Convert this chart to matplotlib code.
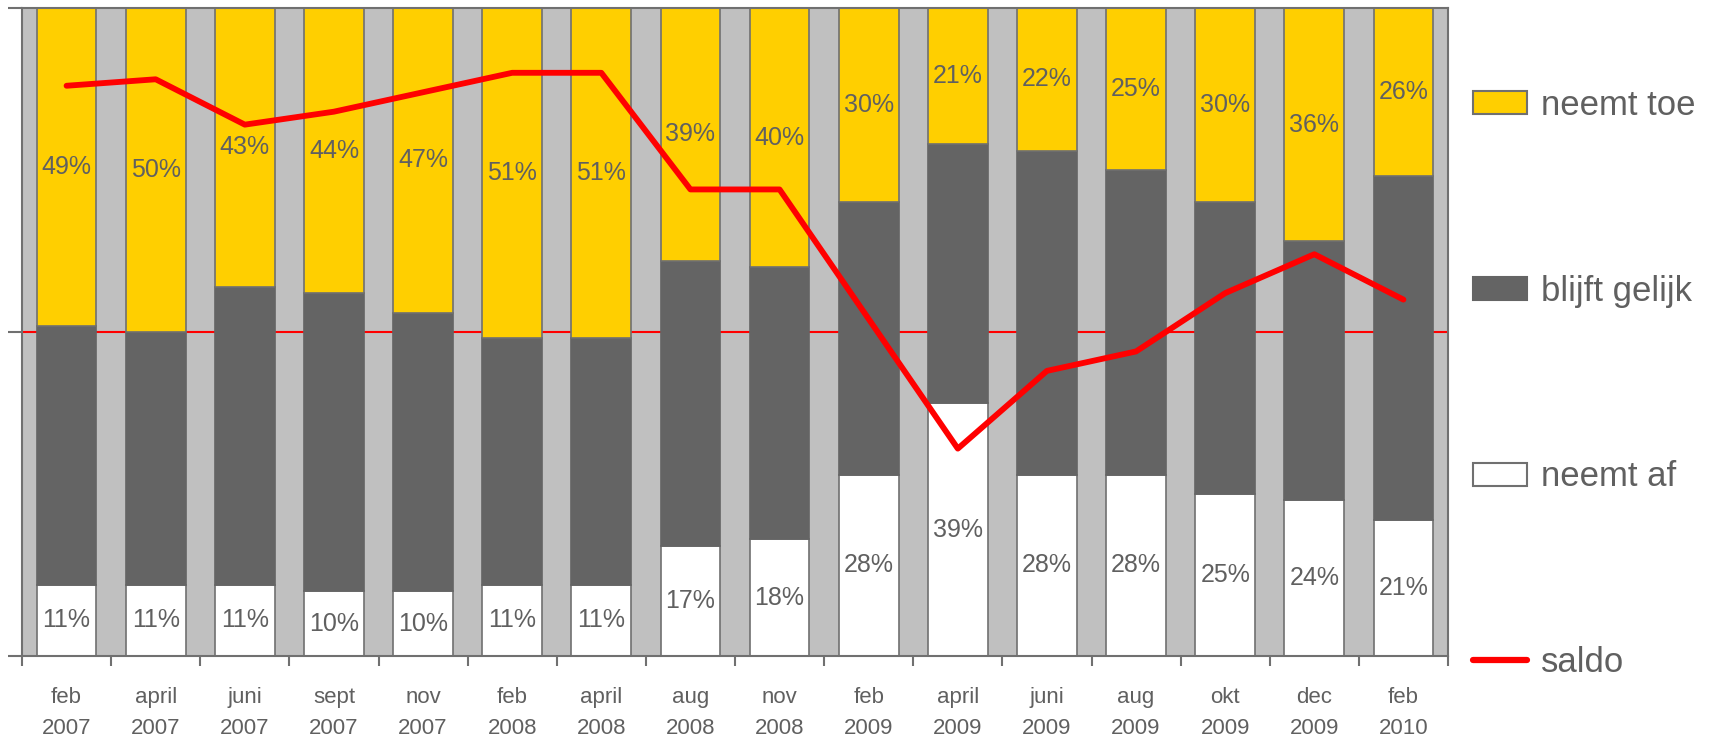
import numpy as np
import matplotlib
matplotlib.use('Agg')
import matplotlib.pyplot as plt
from matplotlib.patches import Patch
from matplotlib.lines import Line2D

plt.rcParams['font.family'] = ['Liberation Sans', 'DejaVu Sans']

# Data
labels = ['feb\n2007', 'april\n2007', 'juni\n2007', 'sept\n2007', 'nov\n2007',
          'feb\n2008', 'april\n2008', 'aug\n2008', 'nov\n2008', 'feb\n2009',
          'april\n2009', 'juni\n2009', 'aug\n2009', 'okt\n2009', 'dec\n2009', 'feb\n2010']
neemt_af = [11, 11, 11, 10, 10, 11, 11, 17, 18, 28, 39, 28, 28, 25, 24, 21]
neemt_toe = [49, 50, 43, 44, 47, 51, 51, 39, 40, 30, 21, 22, 25, 30, 36, 26]
blijft_gelijk = [100 - a - t for a, t in zip(neemt_af, neemt_toe)]
saldo = [38, 39, 32, 34, 37, 40, 40, 22, 22, 2, -18, -6, -3, 6, 12, 5]

yellow = '#FFCF00'
dark = '#646464'
edge = '#707070'
txt = '#606060'

fig = plt.figure(figsize=(17.18, 7.36), dpi=100)
ax = fig.add_axes([22 / 1718, 1 - 656 / 736, 1426 / 1718, 648 / 736])
ax.set_facecolor('#C0C0C0')

x = np.arange(len(labels))
af = np.array(neemt_af) / 100
gel = np.array(blijft_gelijk) / 100
toe = np.array(neemt_toe) / 100

# saldo zero line, only visible between the bars
ax.axhline(0.5, color='#FF0000', lw=1.5, zorder=1)
w = 0.67
ax.bar(x, af, w, color='white', edgecolor=edge, lw=1.2, zorder=2)
ax.bar(x, gel, w, bottom=af, color=dark, edgecolor=dark, lw=1.2, zorder=2)
ax.bar(x, toe, w, bottom=af + gel, color=yellow, edgecolor=edge, lw=1.2, zorder=2)

for i in range(len(x)):
    ax.text(x[i], af[i] / 2, f'{neemt_af[i]}%', ha='center', va='center',
            fontsize=18, color=txt, zorder=3)
    ax.text(x[i], af[i] + gel[i] + toe[i] / 2, f'{neemt_toe[i]}%', ha='center',
            va='center', fontsize=18, color=txt, zorder=3)

ax.set_xlim(-0.5, len(labels) - 0.5)
ax.set_ylim(0, 1)
ax.set_yticks([0, 0.5, 1])
ax.set_yticklabels([])
ax.tick_params(axis='y', length=10, width=1.5, color=edge, direction='out')
ax.set_xticks(x)
ax.set_xticklabels(labels, fontsize=16, color=txt, linespacing=1.68)
ax.set_xticks(np.arange(-0.5, len(labels)), minor=True)
ax.tick_params(axis='x', which='major', length=0, pad=22)
ax.tick_params(axis='x', which='minor', length=7, width=1.5, color=edge)
for s in ax.spines.values():
    s.set_color(edge)
    s.set_linewidth(1.5)

ax2 = ax.twinx()
ax2.set_ylim(-50, 50)
ax2.plot(x, saldo, color='#FF0000', lw=4.2, solid_capstyle='round', zorder=5)
ax2.set_yticks([])
for s in ax2.spines.values():
    s.set_visible(False)

handles = [Patch(facecolor=yellow, edgecolor=edge, lw=1.5),
           Patch(facecolor=dark, edgecolor=dark, lw=1.5),
           Patch(facecolor='white', edgecolor=edge, lw=1.5),
           Line2D([0], [0], color='#FF0000', lw=4.5, solid_capstyle='round')]
leg = fig.legend(handles, ['neemt toe', 'blijft gelijk', 'neemt af', 'saldo'],
                 loc='center left', bbox_to_anchor=(1473 / 1718, 1 - 384 / 736),
                 frameon=False, fontsize=25, labelspacing=4.4,
                 borderpad=0, borderaxespad=0,
                 handlelength=1.55, handleheight=0.65, handletextpad=0.4)
for t in leg.get_texts():
    t.set_color(txt)

fig.savefig('out.png', dpi=100)
